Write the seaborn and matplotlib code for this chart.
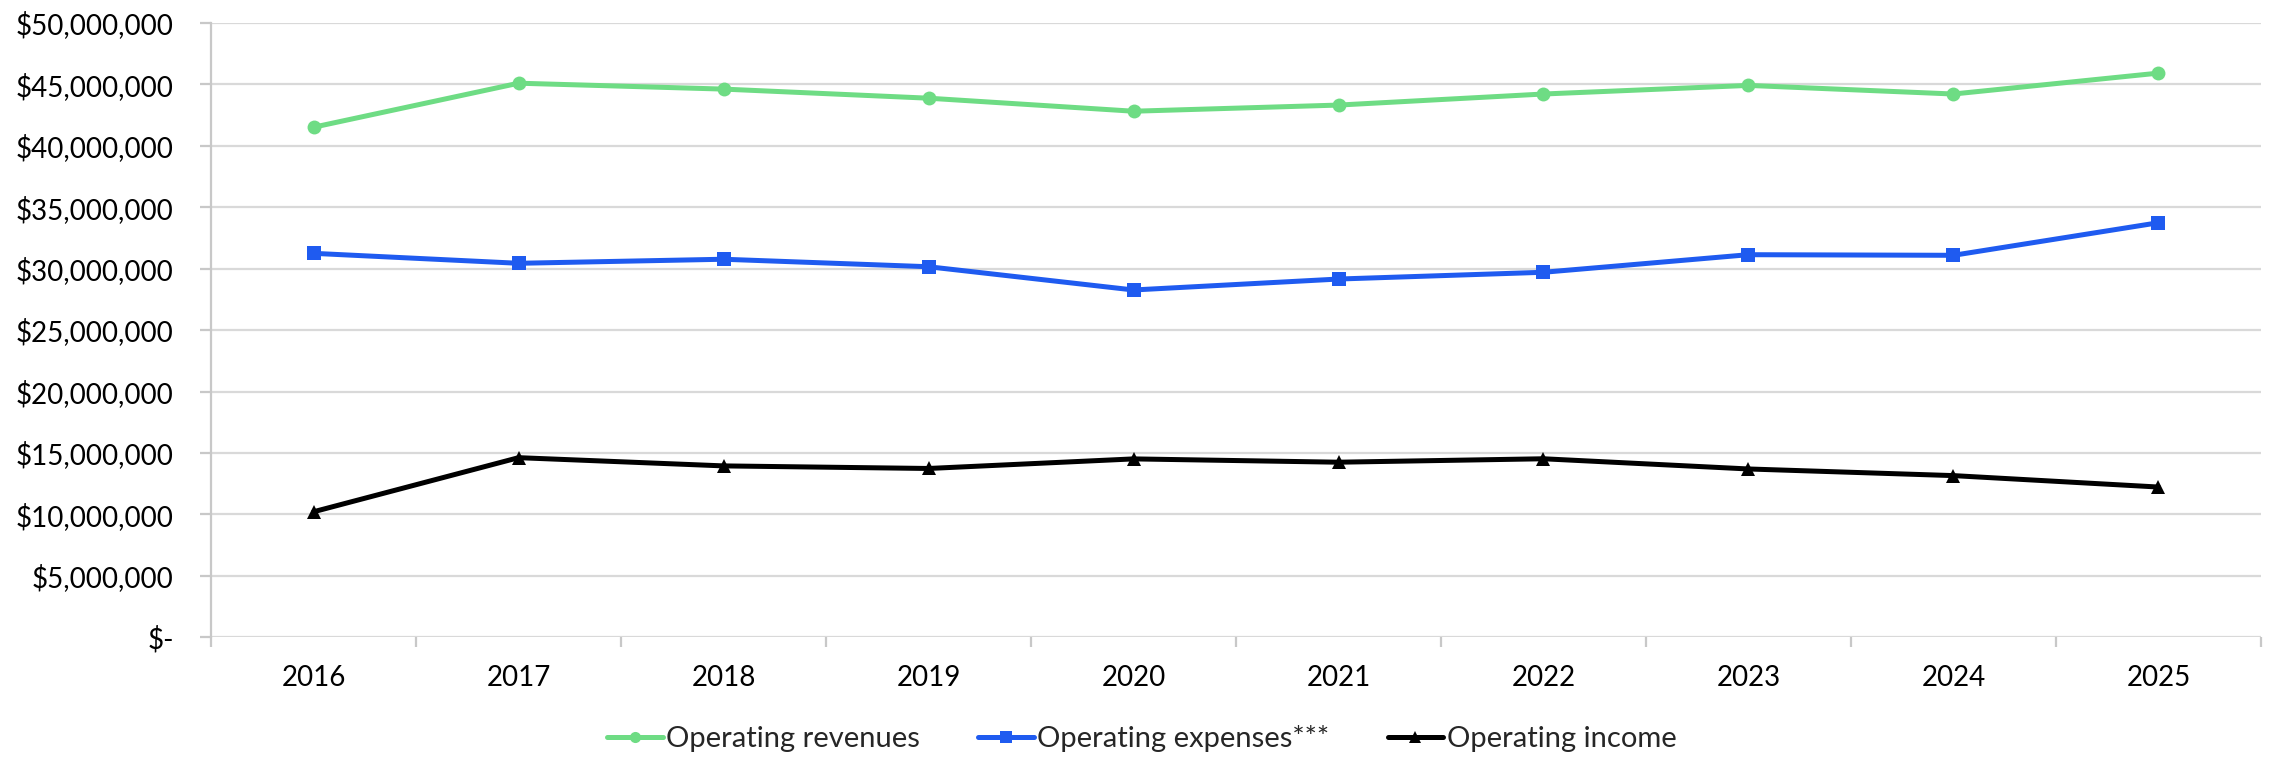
import matplotlib
matplotlib.use("Agg")
import matplotlib.pyplot as plt
from matplotlib.ticker import FuncFormatter, MultipleLocator, FixedLocator
import seaborn as sns
import pandas as pd

years = [2016, 2017, 2018, 2019, 2020, 2021, 2022, 2023, 2024, 2025]
operating_revenues = [41.5e6, 45.08e6, 44.6e6, 43.86e6, 42.8e6, 43.3e6, 44.2e6, 44.9e6, 44.2e6, 45.9e6]
operating_expenses = [31.24e6, 30.43e6, 30.76e6, 30.15e6, 28.26e6, 29.15e6, 29.7e6, 31.13e6, 31.08e6, 33.73e6]
operating_income = [10.22e6, 14.62e6, 13.95e6, 13.74e6, 14.52e6, 14.25e6, 14.53e6, 13.7e6, 13.16e6, 12.23e6]
series_names = ["Operating revenues", "Operating expenses***", "Operating income"]

df = pd.concat([
    pd.DataFrame({"Year": years, "Value": operating_revenues, "Series": series_names[0]}),
    pd.DataFrame({"Year": years, "Value": operating_expenses, "Series": series_names[1]}),
    pd.DataFrame({"Year": years, "Value": operating_income, "Series": series_names[2]}),
], ignore_index=True)

sns.set_theme(style="white")
plt.rcParams["font.family"] = ["Lato", "DejaVu Sans"]

palette = {series_names[0]: "#6EDC84", series_names[1]: "#1F5BF0", series_names[2]: "#000000"}
markers = {series_names[0]: "o", series_names[1]: "s", series_names[2]: "^"}

fig = plt.figure(figsize=(22.7, 7.57), dpi=100)
ax = fig.add_axes([0.093, 0.158, 0.903, 0.812])

sns.lineplot(data=df, x="Year", y="Value", hue="Series", style="Series",
             hue_order=series_names, style_order=series_names,
             palette=palette, markers=markers, dashes=False,
             linewidth=3.6, markersize=10, markeredgewidth=0,
             ax=ax, legend=True)

ax.set_xlim(2015.5, 2025.5)
ax.set_ylim(0, 50e6)
ax.yaxis.set_major_locator(MultipleLocator(5e6))

def money(v, _):
    if abs(v) < 1:
        return "$-"
    return "${:,.0f}".format(v)

ax.yaxis.set_major_formatter(FuncFormatter(money))
ax.set_xticks(years)
ax.set_xticklabels([str(y) for y in years])
ax.xaxis.set_minor_locator(FixedLocator([y + 0.5 for y in [2015] + years]))

ax.grid(axis="y", color="#D9D9D9", linewidth=1.6)
ax.set_axisbelow(True)
for side in ["top", "right", "bottom"]:
    ax.spines[side].set_visible(False)
ax.spines["left"].set_color("#C8C8C8")
ax.spines["left"].set_linewidth(1.6)

ax.tick_params(axis="y", which="major", length=8, width=1.6, color="#C8C8C8",
               labelsize=20, labelcolor="#000000", pad=19, left=True)
ax.tick_params(axis="x", which="major", length=0, labelsize=20, labelcolor="#000000", pad=20)
ax.tick_params(axis="x", which="minor", length=7, width=1.6, color="#C8C8C8", bottom=True)
ax.set_xlabel("")
ax.set_ylabel("")

handles, labels = ax.get_legend_handles_labels()
ax.get_legend().remove()
fig.legend(handles, labels, loc="center", bbox_to_anchor=(0.503, 0.024), ncol=3,
           frameon=False, fontsize=21, handlelength=1.9, handletextpad=0.12,
           columnspacing=2.0, markerscale=0.8)

fig.savefig("out.png", dpi=100)
